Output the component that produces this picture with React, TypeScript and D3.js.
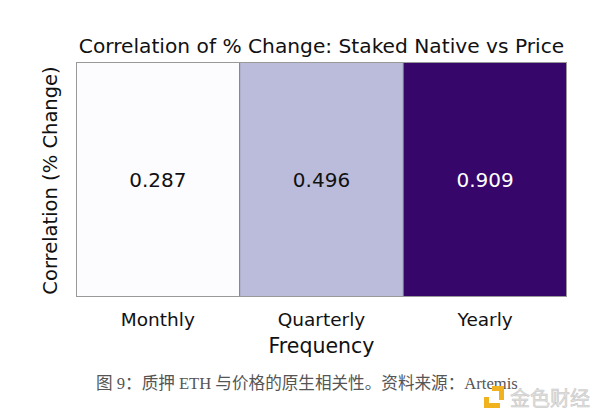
import * as d3 from "d3"
import { useRef, useEffect } from "react"

const categories = ["Monthly", "Quarterly", "Yearly"]
const correlations = [0.287, 0.496, 0.909]
const valueLabels = ["0.287", "0.496", "0.909"]

const title = "Correlation of % Change: Staked Native vs Price"
const xTitle = "Frequency"
const yTitle = "Correlation (% Change)"
const caption = "图 9：质押 ETH 与价格的原生相关性。资料来源：Artemis"
const watermark = "金色财经"

export default function App() {
  const svgRef = useRef<SVGSVGElement>(null)

  useEffect(() => {
    document.body.style.margin = "0"
    if (!svgRef.current) return
    const width = 600
    const height = 416
    const margin = { top: 62, right: 33, bottom: 119, left: 76 }
    const font = "DejaVu Sans, sans-serif"

    const svg = d3.select(svgRef.current)
    svg.selectAll("*").remove()
    svg.attr("width", width).attr("height", height).attr("viewBox", `0 0 ${width} ${height}`)

    svg.append("rect").attr("width", width).attr("height", height).attr("fill", "#ffffff")

    const xScale = d3
      .scaleBand()
      .domain(categories)
      .range([margin.left, width - margin.right])
      .padding(0)

    const yTop = margin.top
    const yBottom = height - margin.bottom

    // Purples-like ramp, as rendered in the source image
    const color = d3
      .scaleLinear<string>()
      .domain([d3.min(correlations) || 0, 0.496, d3.max(correlations) || 1])
      .range(["#fcfbfe", "#bbbcdb", "#37066b"])
      .interpolate(d3.interpolateRgb)

    const cells = svg.append("g")
    categories.forEach((cat, i) => {
      const v = correlations[i]
      cells
        .append("rect")
        .attr("x", xScale(cat) ?? 0)
        .attr("y", yTop)
        .attr("width", xScale.bandwidth())
        .attr("height", yBottom - yTop)
        .attr("fill", color(v))
      cells
        .append("text")
        .attr("x", (xScale(cat) ?? 0) + xScale.bandwidth() / 2)
        .attr("y", (yTop + yBottom) / 2)
        .attr("dy", "0.35em")
        .attr("text-anchor", "middle")
        .style("font-family", font)
        .style("font-size", "20px")
        .style("fill", v > 0.7 ? "#ffffff" : "#111111")
        .text(valueLabels[i])
    })

    // separators and frame
    categories.slice(1).forEach((cat) => {
      svg
        .append("line")
        .attr("x1", xScale(cat) ?? 0)
        .attr("x2", xScale(cat) ?? 0)
        .attr("y1", yTop)
        .attr("y2", yBottom)
        .attr("stroke", "#777777")
        .attr("stroke-width", 1)
    })
    svg
      .append("rect")
      .attr("x", margin.left + 0.5)
      .attr("y", yTop + 0.5)
      .attr("width", width - margin.right - margin.left - 1)
      .attr("height", yBottom - yTop - 1)
      .attr("fill", "none")
      .attr("stroke", "#999999")
      .attr("stroke-width", 1)

    svg
      .append("g")
      .attr("transform", `translate(0,${yBottom})`)
      .call(d3.axisBottom(xScale).tickSize(0).tickPadding(16))
      .call((g) => g.select(".domain").remove())
      .call((g) =>
        g
          .selectAll("text")
          .style("font-family", font)
          .style("font-size", "18.5px")
          .style("fill", "#111111"),
      )

    svg
      .append("text")
      .attr("x", (margin.left + width - margin.right) / 2)
      .attr("y", 353)
      .attr("text-anchor", "middle")
      .style("font-family", font)
      .style("font-size", "20.5px")
      .style("fill", "#111111")
      .text(xTitle)

    svg
      .append("text")
      .attr("transform", `translate(57,${(yTop + yBottom) / 2 + 1}) rotate(-90)`)
      .attr("text-anchor", "middle")
      .style("font-family", font)
      .style("font-size", "19.5px")
      .style("fill", "#111111")
      .text(yTitle)

    svg
      .append("text")
      .attr("x", (margin.left + width - margin.right) / 2)
      .attr("y", 53)
      .attr("text-anchor", "middle")
      .style("font-family", font)
      .style("font-size", "20.2px")
      .style("fill", "#111111")
      .text(title)

    svg
      .append("text")
      .attr("x", 96)
      .attr("y", 389)
      .style("font-family", "Liberation Serif, Noto Sans CJK SC, serif")
      .style("font-size", "16.6px")
      .style("fill", "#555555")
      .text(caption)

    // watermark
    const wm = svg.append("g").attr("transform", "translate(484,386)")
    wm.append("path")
      .attr("d", "M0,11 L5,11 L5,17 L16,17 L16,22 L0,22 Z M8,0 L20,0 L20,14 L15,14 L15,5 L8,5 Z")
      .attr("fill", "#f0b21e")
    wm.append("text")
      .attr("x", 26)
      .attr("y", 20)
      .style("font-family", "Noto Sans CJK SC, sans-serif")
      .style("font-size", "20px")
      .style("fill", "#e2e2e2")
      .style("stroke", "#c4c4c4")
      .style("stroke-width", 0.5)
      .text(watermark)
  }, [])

  return (
    <div>
      <svg ref={svgRef} style={{ display: "block" }}></svg>
    </div>
  )
}
